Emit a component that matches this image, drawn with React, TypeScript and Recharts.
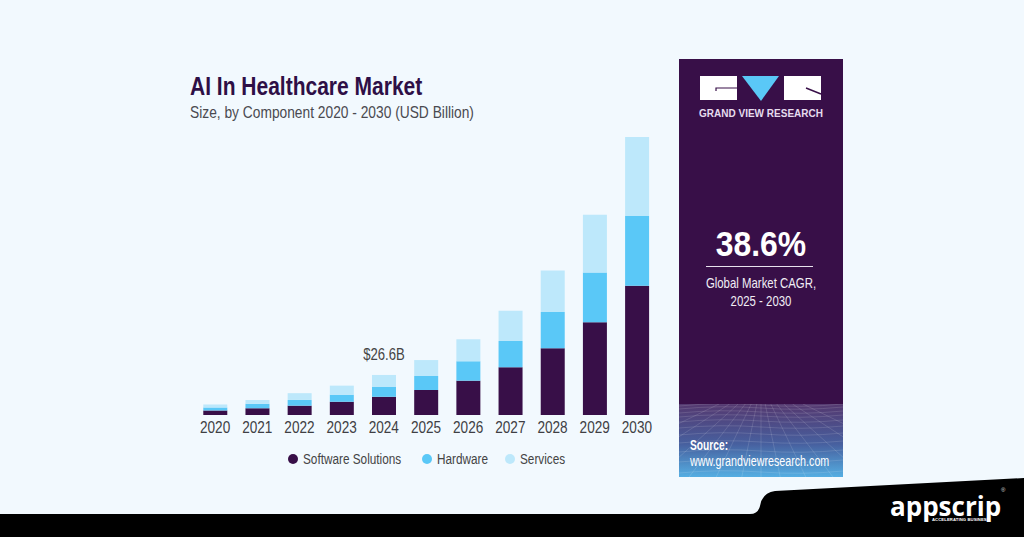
import { BarChart, Bar, XAxis, YAxis, Legend, LabelList } from "recharts";

const YEARS = ["2020", "2021", "2022", "2023", "2024", "2025", "2026", "2027", "2028", "2029", "2030"];
const SOFTWARE = [3.0, 4.5, 6.2, 8.8, 12.1, 16.6, 22.8, 31.7, 44.4, 61.6, 85.8];
const HARDWARE = [2.0, 2.9, 3.8, 4.7, 6.5, 9.3, 12.9, 17.5, 24.1, 33.0, 46.4];
const SERVICES = [2.0, 2.5, 4.5, 6.0, 8.0, 10.6, 14.6, 20.0, 27.5, 38.4, 52.5];
const CALLOUTS = ["", "", "", "", "$26.6B", "", "", "", "", "", ""];

const data = YEARS.map((year, i) => ({
  year,
  software: SOFTWARE[i],
  hardware: HARDWARE[i],
  services: SERVICES[i],
  callout: CALLOUTS[i],
}));

const BG = "#f2f9fe";
const PURPLE = "#380f48";
const BLUE = "#5ac8f7";
const PALE = "#bde8fb";
const SANS = '"Liberation Sans", sans-serif';

// no narrow font installed, so text is squeezed horizontally instead
function Squeezed({ x, y, scale, origin = "left", style, children }: any) {
  return (
    <div
      style={{
        position: "absolute",
        left: origin === "center" ? x - 150 : x,
        top: y,
        width: origin === "center" ? 300 : undefined,
        textAlign: origin === "center" ? "center" : "left",
        whiteSpace: "nowrap",
        fontFamily: SANS,
        lineHeight: 1.15,
        transform: `scaleX(${scale})`,
        transformOrigin: origin === "center" ? "center" : "left",
        ...style,
      }}
    >
      {children}
    </div>
  );
}

function YearTick({ x, y, payload }: any) {
  return (
    <text
      transform={`translate(${x},${y + 10}) scale(0.85,1)`}
      textAnchor="middle"
      fontFamily={SANS}
      fontSize={16}
      fill="#3f3f44"
    >
      {payload.value}
    </text>
  );
}

function CalloutLabel({ x, y, width, value }: any) {
  if (!value) return null;
  return (
    <text
      transform={`translate(${x + width / 2},${y - 15}) scale(0.82,1)`}
      textAnchor="middle"
      fontFamily={SANS}
      fontSize={16}
      fill="#444"
    >
      {value}
    </text>
  );
}

// legend x positions follow the reference
function ChartLegend({ payload }: any) {
  const gaps = [0, 134, 217];
  return (
    <div style={{ position: "relative", height: 20, width: 300 }}>
      {(payload || []).map((p: any, i: number) => (
        <div key={p.value} style={{ position: "absolute", left: gaps[i], top: 0, height: 20 }}>
          <span
            style={{ position: "absolute", left: 0, top: 5, width: 10, height: 10, borderRadius: 5, background: p.color }}
          />
          <Squeezed x={15} y={1} scale={0.76} style={{ fontSize: 15.5, color: "#444" }}>
            {p.value}
          </Squeezed>
        </div>
      ))}
    </div>
  );
}

function GridTexture() {
  const rows = [0, 3, 7, 11, 16, 22, 29, 37, 46, 56, 67];
  const cols = [-120, -90, -65, -45, -28, -12, 0, 12, 28, 45, 65, 90, 120];
  return (
    <svg width={164} height={73} style={{ position: "absolute", left: 0, top: 0 }}>
      <defs>
        <linearGradient id="panelGrad" x1="0" y1="0" x2="0" y2="1">
          <stop offset="0%" stopColor="#54386f" />
          <stop offset="55%" stopColor="#47609f" />
          <stop offset="100%" stopColor="#55aee2" />
        </linearGradient>
      </defs>
      <rect width={164} height={73} fill="url(#panelGrad)" />
      {rows.map((y) => (
        <path
          key={y}
          d={`M0 ${y + 2} Q41 ${y - 2} 82 ${y + 1} T164 ${y}`}
          fill="none"
          stroke="#ffffff"
          strokeOpacity={0.13}
        />
      ))}
      {cols.map((c) => (
        <line key={c} x1={82 + c * 0.35} y1={0} x2={82 + c * 1.6} y2={73} stroke="#ffffff" strokeOpacity={0.13} />
      ))}
    </svg>
  );
}

function SidePanel() {
  return (
    <div style={{ position: "absolute", left: 679, top: 59, width: 164, height: 418, background: PURPLE, overflow: "hidden" }}>
      <svg width={164} height={50} style={{ position: "absolute", left: 0, top: 0 }}>
        <rect x={21} y={17} width={37} height={24} fill="#fff" />
        <path d="M37 32 V29 H58" fill="none" stroke={PURPLE} strokeWidth={1.2} />
        <path d="M63 17 H100 L82 42 Z" fill={BLUE} />
        <rect x={105} y={17} width={37} height={24} fill="#fff" />
        <path d="M127 29 L142 35" fill="none" stroke={PURPLE} strokeWidth={1.4} />
      </svg>
      <Squeezed x={82} y={49} scale={1} origin="center" style={{ fontWeight: 700, fontSize: 10, letterSpacing: 0, color: "#e6dcee" }}>
        GRAND VIEW RESEARCH
      </Squeezed>
      <Squeezed x={82} y={165} scale={0.91} origin="center" style={{ fontWeight: 700, fontSize: 35, color: "#fff" }}>
        38.6%
      </Squeezed>
      <div style={{ position: "absolute", left: 27, top: 207, width: 107, height: 1, background: "#e8e2ee" }} />
      <Squeezed x={82} y={215} scale={0.76} origin="center" style={{ fontSize: 15, color: "#f1edf5" }}>
        Global Market CAGR,
      </Squeezed>
      <Squeezed x={82} y={233} scale={0.76} origin="center" style={{ fontSize: 15, color: "#f1edf5" }}>
        2025 - 2030
      </Squeezed>
      <div style={{ position: "absolute", left: 0, top: 345, width: 164, height: 73 }}>
        <GridTexture />
        <Squeezed x={11} y={33} scale={0.73} style={{ fontWeight: 700, fontSize: 14, color: "#fff" }}>
          Source:
        </Squeezed>
        <Squeezed x={11} y={49} scale={0.765} style={{ fontSize: 14, color: "#fff" }}>
          www.grandviewresearch.com
        </Squeezed>
      </div>
    </div>
  );
}

function Footer() {
  return (
    <>
      <svg width={1024} height={537} style={{ position: "absolute", left: 0, top: 0 }}>
        <path d="M0 514 H750 Q758 514 760 506 Q762 493 775 491 L1024 478 V537 H0 Z" fill="#000" />
      </svg>
      <div style={{ position: "absolute", left: 890, top: 496, lineHeight: "20px", fontFamily: "Open Sans", fontWeight: 700, fontSize: 26, color: "#fff" }}>
        appscrip
      </div>
      <div style={{ position: "absolute", left: 932, top: 517, lineHeight: "5px", fontFamily: SANS, fontWeight: 700, fontSize: 4.2, color: "#fff", letterSpacing: 0.1 }}>
        ACCELERATING BUSINESS
      </div>
      <div style={{ position: "absolute", left: 1001, top: 488, lineHeight: "5px", fontFamily: SANS, fontSize: 6, color: "#ddd" }}>®</div>
    </>
  );
}

export default function App() {
  return (
    <div style={{ position: "absolute", left: 0, top: 0, width: 1024, height: 537, background: BG, overflow: "hidden" }}>
      <Squeezed x={190} y={72} scale={0.84} style={{ fontWeight: 700, fontSize: 25, color: "#2e0f46" }}>
        AI In Healthcare Market
      </Squeezed>
      <Squeezed x={190} y={103} scale={0.81} style={{ fontSize: 17, color: "#4a4a50" }}>
        Size, by Component 2020 - 2030 (USD Billion)
      </Squeezed>
      <div style={{ position: "absolute", left: 0, top: 0 }}>
        <BarChart
          width={1024}
          height={537}
          data={data}
          barCategoryGap="22%"
          margin={{ top: 129, right: 366, bottom: 62, left: 194 }}
        >
          <XAxis dataKey="year" axisLine={false} tickLine={false} interval={0} height={30} tick={<YearTick />} />
          <YAxis hide domain={[0, 190]} />
          <Legend
            content={<ChartLegend />}
            itemSorter={null}
            wrapperStyle={{ left: 288, top: 449, width: 300 }}
            height={30}
          />
          <Bar dataKey="software" name="Software Solutions" stackId="a" fill={PURPLE} isAnimationActive={false} />
          <Bar dataKey="hardware" name="Hardware" stackId="a" fill={BLUE} isAnimationActive={false} />
          <Bar dataKey="services" name="Services" stackId="a" fill={PALE} isAnimationActive={false}>
            <LabelList dataKey="callout" content={<CalloutLabel />} />
          </Bar>
        </BarChart>
      </div>
      <SidePanel />
      <Footer />
    </div>
  );
}
